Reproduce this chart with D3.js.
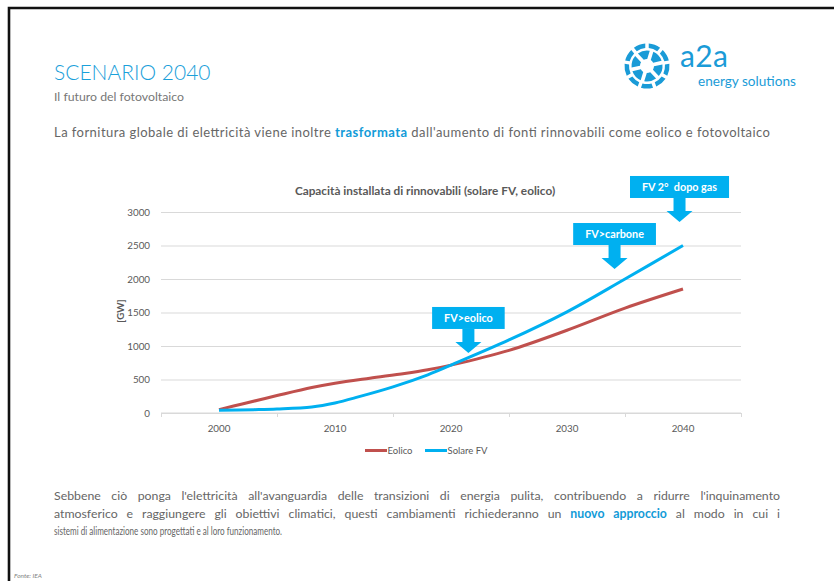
<!DOCTYPE html>
<html><head><meta charset="utf-8">
<script src="https://cdn.jsdelivr.net/npm/d3@7/dist/d3.min.js"></script>
<style>
html,body{margin:0;padding:0;background:#fff;}
svg{display:block;font-family:Lato, "Open Sans", sans-serif;}
</style></head>
<body>
<svg id="c" width="834" height="581"></svg>
<script>
// ---- data ----
const eolicoYears  = [2000, 2002, 2005, 2008, 2010, 2013, 2016, 2018, 2020, 2025, 2030, 2035, 2040];
const eolicoValues = [50, 135, 260, 380, 445, 520, 590, 645, 715, 935, 1235, 1565, 1850];
const solareYears  = [2000, 2003, 2005, 2008, 2010, 2012, 2015, 2018, 2020, 2025, 2030, 2035, 2040];
const solareValues = [40, 50, 60, 90, 150, 240, 390, 570, 715, 1090, 1510, 2000, 2500];
const xTickLabels = [2000, 2010, 2020, 2030, 2040];
const xTickMarks = [1995, 2005, 2015, 2025, 2035, 2045];
const yTicks = [0, 500, 1000, 1500, 2000, 2500, 3000];
const seriesNames = ["Eolico", "Solare FV"];
const calloutLabels = ["FV>eolico", "FV>carbone", "FV 2°  dopo gas"];
const calloutYears = [2021.5, 2034.1, 2039.7];
const calloutValues = [896, 2149, 2851];

const RED = "#C0504D", BLUE = "#00B0F0", GRID = "#D9D9D9", TXT = "#595959";
const svg = d3.select("#c");

// frame
svg.append("path").attr("d", "M9,581 V8 H834").attr("fill", "none").attr("stroke", "#111").attr("stroke-width", 2.6);

// header
svg.append("text").attr("x", 54).attr("y", 80).attr("font-size", 21).attr("font-weight", 300).attr("fill", "#1AA0DA").text("SCENARIO 2040");
svg.append("text").attr("x", 54).attr("y", 101).attr("font-size", 12.3).attr("fill", "#777").text("Il futuro del fotovoltaico");
const intro = svg.append("text").attr("x", 54).attr("y", 137).attr("font-size", 13).attr("fill", "#666");
intro.append("tspan").text("La fornitura globale di elettricità viene inoltre ");
intro.append("tspan").attr("font-weight", "bold").attr("fill", "#129BD8").text("trasformata");
intro.append("tspan").text(" dall'aumento di fonti rinnovabili come eolico e fotovoltaico");
intro.node().setAttribute("textLength", 716);
intro.node().setAttribute("lengthAdjust", "spacing");

// logo
const logo = svg.append("g").attr("transform", "translate(647,66)");
const LB = "#1A9BD7";
const outerArc = d3.arc().innerRadius(18).outerRadius(22.5).padAngle(0.12);
const innerArc = d3.arc().innerRadius(7).outerRadius(15.5).padAngle(0.22);
d3.range(9).forEach(i => {
  logo.append("path").attr("d", outerArc({startAngle: i * 2 * Math.PI / 9, endAngle: (i + 1) * 2 * Math.PI / 9})).attr("fill", LB);
});
d3.range(6).forEach(i => {
  logo.append("path").attr("d", innerArc({startAngle: i * Math.PI / 3 + 0.3, endAngle: (i + 1) * Math.PI / 3 + 0.3})).attr("fill", LB);
});
svg.append("text").attr("x", 680).attr("y", 67).attr("font-size", 30).attr("fill", LB).attr("letter-spacing", 0.3).text("a2a");
svg.append("text").attr("x", 698).attr("y", 85.5).attr("font-size", 13.6).attr("fill", LB).text("energy solutions");

// chart
const x = d3.scaleLinear().domain([1995, 2045]).range([161, 741]);
const y = d3.scaleLinear().domain([0, 3000]).range([413, 212]);

svg.append("text").attr("x", 425).attr("y", 195).attr("text-anchor", "middle").attr("font-size", 11.8).attr("font-weight", "bold").attr("fill", TXT)
  .text("Capacità installata di rinnovabili (solare FV, eolico)");

// grid + y axis
const yAxis = d3.axisLeft(y).tickValues(yTicks).tickSize(-(x.range()[1] - x.range()[0])).tickPadding(11).tickFormat(d3.format("d"));
const gy = svg.append("g").attr("transform", `translate(${x.range()[0]},0)`).call(yAxis);
gy.select(".domain").remove();
gy.selectAll(".tick line").attr("stroke", GRID).attr("stroke-width", 1);
gy.selectAll(".tick text").attr("fill", TXT).attr("font-size", 9.8).attr("font-family", "Lato, sans-serif");

// x axis
const xAxis = d3.axisBottom(x).tickValues(xTickMarks).tickSize(4).tickFormat("");
const gx = svg.append("g").attr("transform", `translate(0,${y(0)})`).call(xAxis);
gx.select(".domain").attr("stroke", GRID).attr("d", `M${x.range()[0]},0H${x.range()[1]}`);
gx.selectAll(".tick line").attr("stroke", GRID);
svg.append("g").selectAll("text").data(xTickLabels).join("text")
  .attr("x", d => x(d)).attr("y", 432).attr("text-anchor", "middle").attr("font-size", 9.8).attr("fill", TXT).text(d => d);

svg.append("text").attr("transform", "translate(124,311) rotate(-90)").attr("text-anchor", "middle").attr("font-size", 9.8).attr("font-weight", "bold").attr("fill", TXT).text("[GW]");

// lines
const line = d3.line().x(d => x(d[0])).y(d => y(d[1])).curve(d3.curveCatmullRom.alpha(0.5));
const eol = eolicoYears.map((yr, i) => [yr, eolicoValues[i]]);
const sol = solareYears.map((yr, i) => [yr, solareValues[i]]);
svg.append("path").datum(eol).attr("d", line).attr("fill", "none").attr("stroke", RED).attr("stroke-width", 3).attr("stroke-linecap", "butt");
svg.append("path").datum(sol).attr("d", line).attr("fill", "none").attr("stroke", BLUE).attr("stroke-width", 3).attr("stroke-linecap", "butt");

// legend
const legend = svg.append("g");
[[365, RED, seriesNames[0]], [425, BLUE, seriesNames[1]]].forEach(([lx, col, name]) => {
  legend.append("line").attr("x1", lx).attr("x2", lx + 22).attr("y1", 450.5).attr("y2", 450.5).attr("stroke", col).attr("stroke-width", 3);
  legend.append("text").attr("x", lx + 22.5).attr("y", 454).attr("font-size", 9.5).attr("fill", TXT).text(name);
});

// callouts
calloutLabels.forEach((lab, i) => {
  const tx = x(calloutYears[i]), ty = y(calloutValues[i]);
  const g = svg.append("g");
  const t = g.append("text").attr("x", tx).attr("y", ty - 31.3).attr("text-anchor", "middle").attr("font-size", 10.8).attr("font-weight", "bold")
    .attr("fill", "#fff").style("white-space", "pre").text(lab);
  const w = t.node().getComputedTextLength() + 24;
  g.insert("rect", "text").attr("x", tx - w / 2).attr("y", ty - 46).attr("width", w).attr("height", 22).attr("fill", BLUE);
  const boxB = ty - 24;
  g.append("path").attr("d", `M${tx-6},${boxB} H${tx+6} V${ty-11} H${tx+13} L${tx},${ty} L${tx-13},${ty-11} H${tx-6} Z`).attr("fill", BLUE);
});

// bottom paragraph (justified)
const para = [
  [{t: "Sebbene ciò ponga l'elettricità all'avanguardia delle transizioni di energia pulita, contribuendo a ridurre l'inquinamento"}],
  [{t: "atmosferico e raggiungere gli obiettivi climatici, questi cambiamenti richiederanno un "}, {t: "nuovo approccio", b: true}, {t: " al modo in cui i"}],
  [{t: "sistemi di alimentazione sono progettati e al loro funzionamento."}]
];
const paraY = [500, 518, 535];
para.forEach((segs, i) => {
  const te = svg.append("text").attr("x", 54).attr("y", paraY[i]).attr("font-size", 12.3).attr("fill", "#666");
  segs.forEach(s => {
    const ts = te.append("tspan").text(s.t);
    if (s.b) ts.attr("font-weight", "bold").attr("fill", "#129BD8");
  });
  const n = te.node();
  if (i < 2) {
    const natural = n.getComputedTextLength();
    const full = segs.map(s => s.t).join("");
    const spaces = (full.match(/ /g) || []).length;
    te.attr("word-spacing", (726 - natural) / spaces);
  } else {
    n.setAttribute("textLength", 228);
    n.setAttribute("lengthAdjust", "spacingAndGlyphs");
  }
});

svg.append("text").attr("x", 14).attr("y", 578).attr("font-size", 6.5).attr("font-style", "italic").attr("fill", "#7f7f7f").text("Fonte: IEA");
</script>
</body></html>
